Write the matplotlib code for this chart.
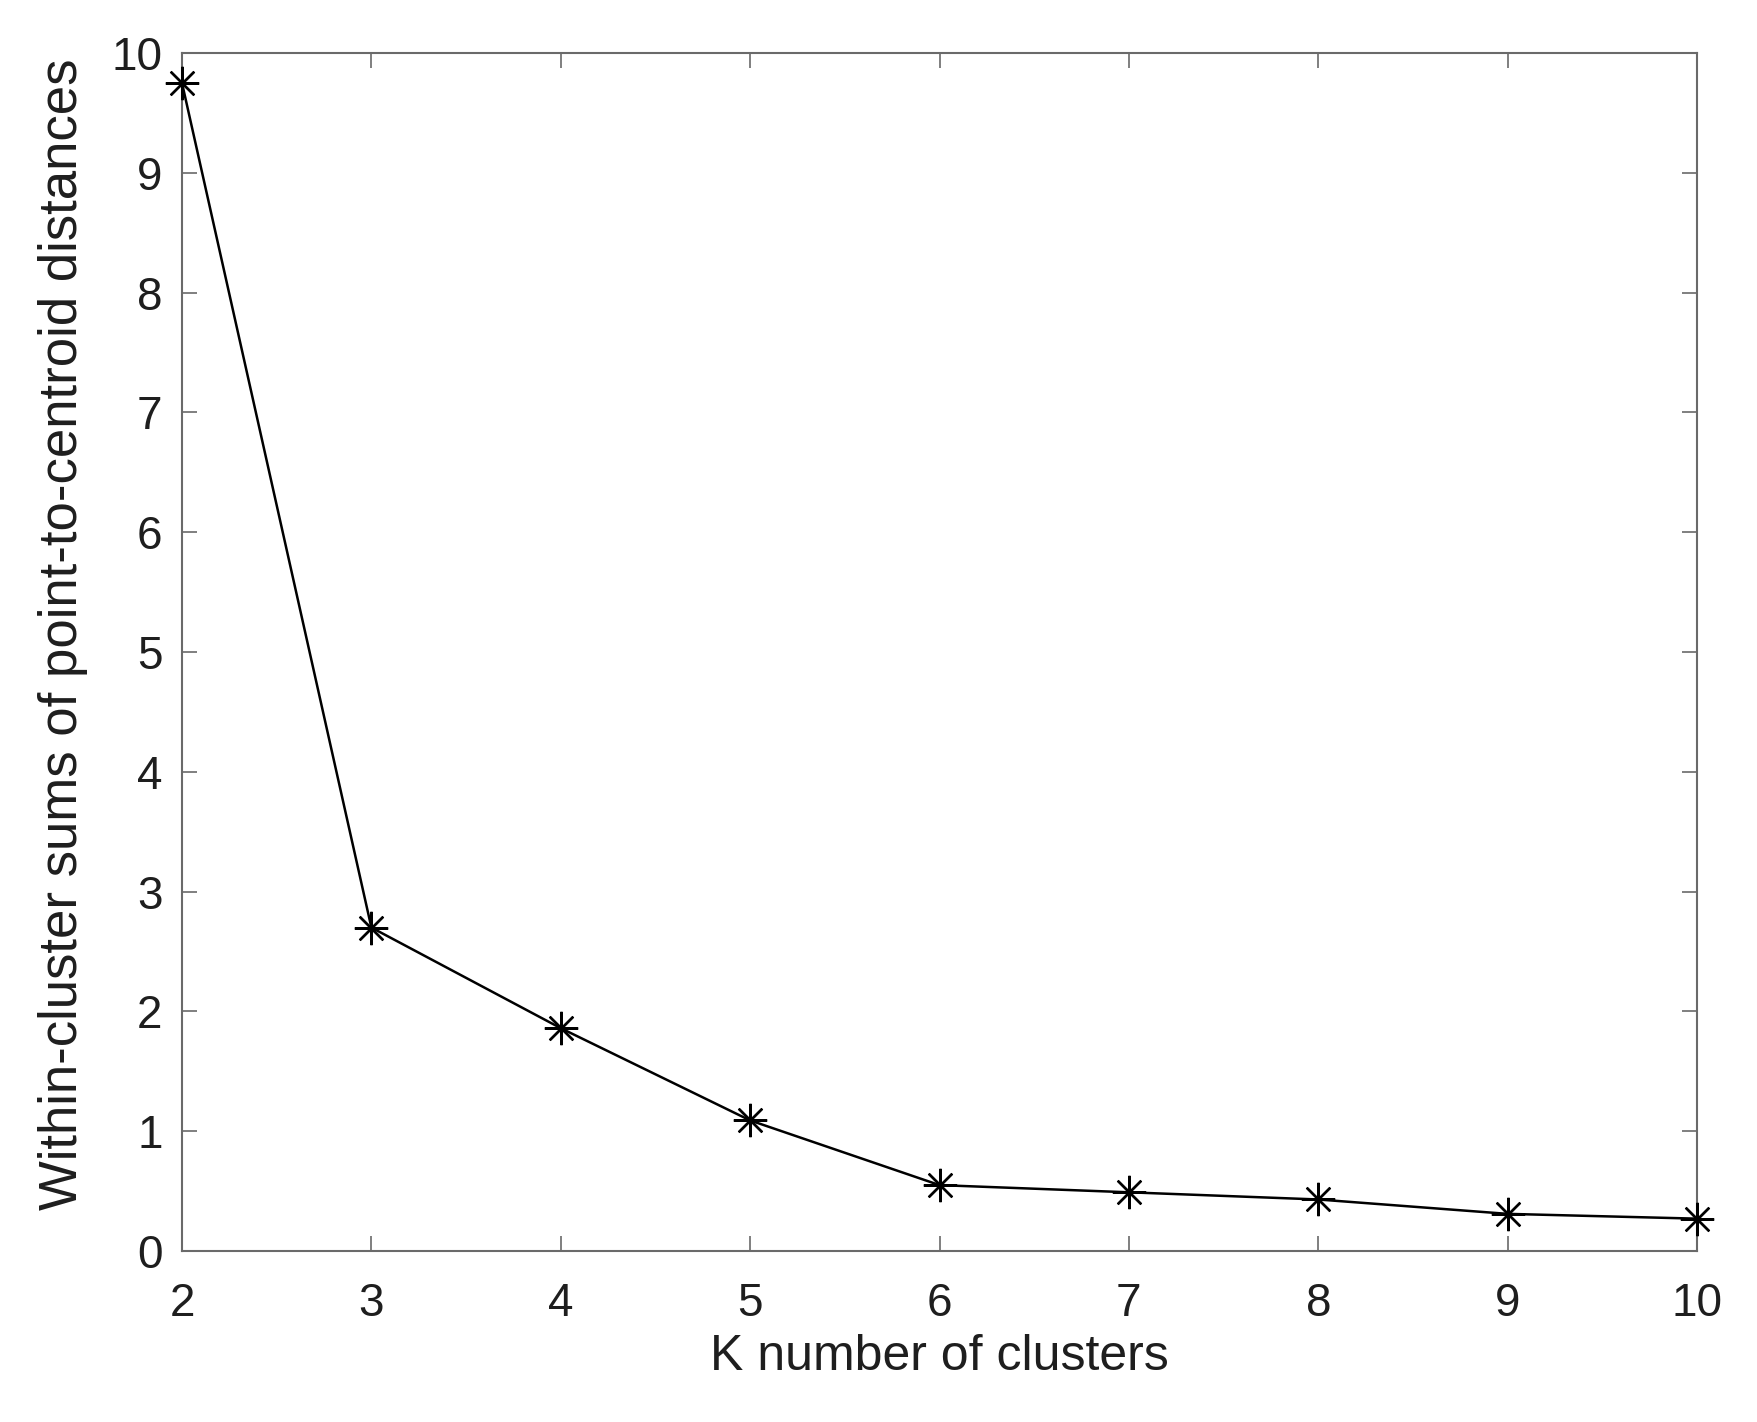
import matplotlib
matplotlib.use("Agg")
import matplotlib.pyplot as plt

k_values = [2, 3, 4, 5, 6, 7, 8, 9, 10]
sum_dist = [9.75, 2.70, 1.86, 1.09, 0.55, 0.49, 0.43, 0.31, 0.27]

plt.rcParams['font.family'] = ['Liberation Sans', 'DejaVu Sans']

fig = plt.figure(figsize=(17.57, 14.22), dpi=100)
ax = fig.add_axes([182 / 1757, 1 - 1251 / 1422, (1697 - 182) / 1757, (1251 - 53) / 1422])

ax.plot(k_values, sum_dist, color='black', linewidth=1.8,
        marker=(8, 2, 0), markersize=24, markeredgewidth=1.7, clip_on=False, zorder=5)

ax.set_xlim(2, 10)
ax.set_ylim(0, 10)
ax.set_xticks(range(2, 11))
ax.set_yticks(range(0, 11))

for s in ax.spines.values():
    s.set_color('#6a6a6a')
    s.set_linewidth(1.5)
ax.tick_params(direction='in', length=11, width=1.2, color='#6a6a6a',
               labelsize=33, labelcolor='#1e1e1e', top=True, right=True)
ax.tick_params(axis='x', pad=22)
ax.tick_params(axis='y', pad=14)

ax.set_xlabel('K number of clusters', fontsize=36, color='#1e1e1e', labelpad=6)
ax.set_ylabel('Within-cluster sums of point-to-centroid distances', fontsize=38,
              color='#1e1e1e')
ax.yaxis.set_label_coords(-0.062, 0.515)

fig.savefig('out.png', dpi=100, facecolor='white')
